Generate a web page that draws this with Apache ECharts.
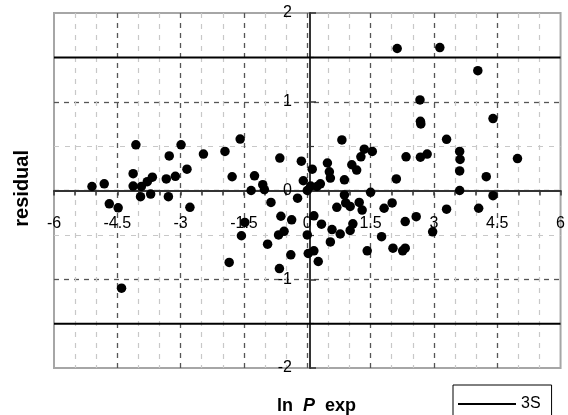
<!DOCTYPE html>
<html>
<head>
<meta charset="utf-8">
<script src="https://cdn.jsdelivr.net/npm/echarts@6/dist/echarts.min.js"></script>
<style>html,body{margin:0;padding:0;background:#fff;}#c{width:568px;height:415px;}</style>
</head>
<body>
<div id="c"></div>
<script>
var xTicks = [-6, -4.5, -3, -1.5, 0, 1.5, 3, 4.5, 6];
var yTicks = [-2, -1, 0, 1, 2];
var limitName = '3S';
var limitValue = 1.5;
var lnPexp = [
  -5.10, -4.81, -4.69, -4.48, -4.06, -4.125, -4.125, -3.93, -3.95, -3.79, -3.67, -3.71,
  -3.27, -3.34, -3.125, -3.29, -2.99, -2.85, -2.78, -2.46, -4.40,
  -1.95, -1.59, -1.78, -1.85, -1.25, -1.33, -1.055, -1.016, -0.86, -1.48, -1.56, -0.94,
  -0.65, -0.625, -0.37, -0.55, -0.68, -0.39, -0.66, -0.23, -0.14, -0.094, 0.0, 0.08,
  0.117, 0.156, 0.0, 0.023, 0.156, 0.26, 0.336, 0.31, 0.23, 0.477, 0.523, 0.547, 0.586,
  0.547, 0.82, 0.88, 0.88, 0.70, 0.91, 1.055, 1.17, 1.27, 1.35, 1.54, 1.50, 1.016, 1.23,
  1.30, 1.08, 1.016, 0.78, 1.42, 1.76, 1.82, 2.01, 2.11, 2.03, 2.26, 2.32,
  2.13, 3.14, 4.04, 2.67, 2.68, 2.69, 4.40, 3.30, 2.34, 2.68, 2.84, 3.61, 3.62, 3.61,
  3.61, 4.98, 4.24, 4.40, 4.06, 3.30, 2.58, 2.32, 2.97
];
var residual = [
  0.045, 0.075, -0.15, -0.195, 0.515, 0.19, 0.05, 0.045, -0.07, 0.10, 0.15, -0.04,
  0.39, 0.13, 0.16, -0.07, 0.515, 0.24, -0.19, 0.41, -1.10,
  0.44, 0.58, 0.155, -0.81, 0.165, 0.0, 0.065, 0.01, -0.135, -0.36, -0.51, -0.605,
  0.365, -0.29, -0.33, -0.46, -0.50, -0.725, -0.88, -0.086, 0.33, 0.11, 0.0, 0.05,
  0.24, -0.285, -0.50, -0.71, -0.68, -0.80, -0.38, 0.075, 0.045, 0.31, 0.21, 0.14, -0.44,
  -0.58, 0.57, 0.12, -0.05, -0.19, -0.14, 0.29, 0.23, 0.38, 0.465, 0.44, -0.02, -0.18, -0.135,
  -0.22, -0.375, -0.45, -0.49, -0.68, -0.52, -0.20, -0.14, 0.13, -0.65, -0.68, -0.65,
  1.60, 1.61, 1.35, 1.02, 0.78, 0.75, 0.81, 0.577, 0.38, 0.375, 0.41, 0.44, 0.35, 0.22,
  0.0, 0.36, 0.156, -0.058, -0.20, -0.21, -0.295, -0.35, -0.465
];

var points = lnPexp.map(function (x, i) { return [x, residual[i]]; });
var xMin = xTicks[0], xMax = xTicks[xTicks.length - 1];
var yMin = yTicks[0], yMax = yTicks[yTicks.length - 1];
var FONT = '"Liberation Sans", Arial, sans-serif';

// grid geometry
var G = {left: 54, right: 2, top: 13, bottom: 47, W: 568, H: 415};
var plotW = G.W - G.left - G.right;
var plotH = G.H - G.top - G.bottom;
// move the axis lines so that they cross at (0, 0)
var xAxisOffset = -plotH * (0 - yMin) / (yMax - yMin);
var yAxisOffset = -plotW * (0 - xMin) / (xMax - xMin);

var chart = echarts.init(document.getElementById('c'), null, {renderer: 'canvas'});
chart.setOption({
  animation: false,
  backgroundColor: '#fff',
  grid: {left: G.left, right: G.right, top: G.top, bottom: G.bottom, show: true, borderColor: '#a6a6a6', borderWidth: 2, backgroundColor: 'transparent'},
  title: {
    text: '{a|ln}{s| }{b|P}{s| }{a|exp}',
    left: 272, top: 392,
    textStyle: {
      rich: {
        a: {fontFamily: FONT, fontWeight: 'bold', fontSize: 18, color: '#000'},
        b: {fontFamily: FONT, fontWeight: 'bold', fontStyle: 'italic', fontSize: 18, color: '#000'},
        s: {fontFamily: FONT, fontSize: 18, width: 10}
      }
    }
  },
  graphic: [{
    type: 'text', left: 12, top: 150, rotation: Math.PI / 2,
    style: {text: 'residual', fontFamily: FONT, fontWeight: 'bold', fontSize: 20, fill: '#000'}
  }],
  legend: {
    show: true, left: 453, top: 385,
    data: [{name: limitName, icon: 'rect', itemStyle: {color: '#000'}}],
    itemWidth: 58, itemHeight: 2, itemGap: 5,
    padding: [11, 11, 14, 5],
    borderColor: '#000', borderWidth: 1, backgroundColor: '#fff',
    textStyle: {fontFamily: FONT, fontSize: 16, color: '#000'}
  },
  xAxis: {
    type: 'value', min: xMin, max: xMax, interval: 1.5, position: 'bottom', offset: xAxisOffset,
    axisLine: {show: true, onZero: false, lineStyle: {color: '#333', width: 2}},
    axisTick: {show: true, length: 5, inside: false, lineStyle: {color: '#333', width: 1.5}},
    minorTick: {show: true, splitNumber: 3, length: 5, lineStyle: {color: '#333', width: 1.5}},
    axisLabel: {show: true, margin: 25, fontFamily: FONT, fontSize: 16, color: '#000',
      formatter: function (v) { var r = Math.round(v * 10) / 10; return xTicks.indexOf(r) >= 0 ? String(r) : ''; }},
    splitLine: {show: true, showMinLine: false, showMaxLine: false, lineStyle: {color: '#555', width: 1.3, type: [5, 5]}},
    minorSplitLine: {show: true, lineStyle: {color: '#c8c8c8', width: 1.2, type: [5, 6]}}
  },
  yAxis: {
    type: 'value', min: yMin, max: yMax, interval: 1, position: 'left', offset: yAxisOffset,
    axisLine: {show: true, onZero: false, lineStyle: {color: '#333', width: 2}},
    axisTick: {show: true, length: 6, inside: true, lineStyle: {color: '#333', width: 1.5}},
    minorTick: {show: true, splitNumber: 2, length: 4, lineStyle: {color: '#333', width: 1.2}},
    axisLabel: {show: true, margin: 18, fontFamily: FONT, fontSize: 16, color: '#000'},
    splitLine: {show: true, showMinLine: false, showMaxLine: false, lineStyle: {color: '#555', width: 1.3, type: [5, 5]}},
    minorSplitLine: {show: true, lineStyle: {color: '#c8c8c8', width: 1.2, type: [5, 6]}}
  },
  series: [
    {
      name: limitName, type: 'line', symbol: 'none', showSymbol: false, silent: true,
      data: [[xMin, limitValue], [xMax, limitValue]],
      lineStyle: {color: '#000', width: 2}, itemStyle: {color: '#000'}, z: 3
    },
    {
      name: limitName, type: 'line', symbol: 'none', showSymbol: false, silent: true,
      data: [[xMin, -limitValue], [xMax, -limitValue]],
      lineStyle: {color: '#000', width: 2}, itemStyle: {color: '#000'}, z: 3
    },
    {
      name: 'residual', type: 'scatter', data: points, symbol: 'circle', symbolSize: 9.5,
      itemStyle: {color: '#000', opacity: 1}, z: 4
    }
  ]
});
</script>
</body>
</html>
